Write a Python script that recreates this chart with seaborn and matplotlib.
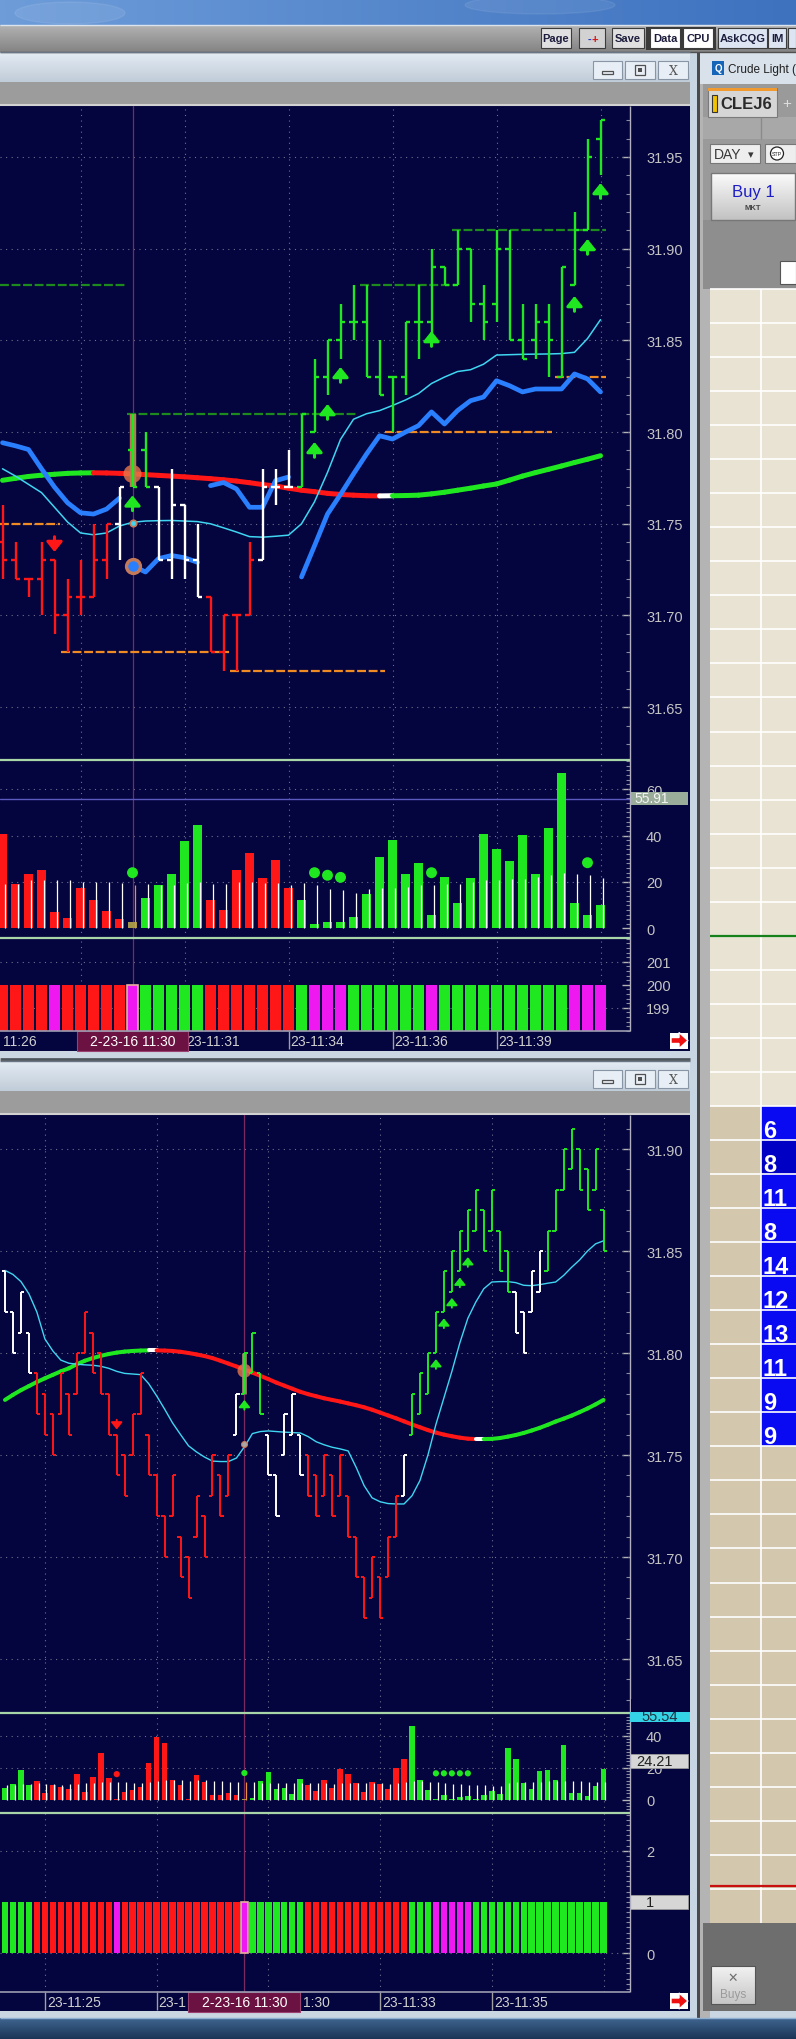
import numpy as np
import matplotlib
matplotlib.use("Agg")
import matplotlib.pyplot as plt
import matplotlib.colors as mcolors
from matplotlib.collections import LineCollection
from matplotlib.patches import Rectangle, Polygon, Circle, Ellipse
from matplotlib.ticker import MultipleLocator
import seaborn as sns

# ------------------------------------------------------------------
# values (CLEJ6, two range-bar charts)
# ------------------------------------------------------------------

# upper chart: 47 bars
top_open = [31.74, 31.73, 31.72, 31.72, 31.73, 31.70, 31.71, 31.71, 31.73, 31.75,
            31.79, 31.79, 31.77, 31.73, 31.76, 31.73, 31.71, 31.68, 31.70, 31.70,
            31.73, 31.77, 31.77, 31.77, 31.80, 31.83, 31.85, 31.86, 31.86, 31.83,
            31.83, 31.83, 31.86, 31.86, 31.89, 31.88, 31.90, 31.87, 31.87, 31.90,
            31.85, 31.85, 31.86, 31.83, 31.88, 31.91, 31.96]
top_high = [31.76, 31.74, 31.72, 31.74, 31.73, 31.72, 31.73, 31.75, 31.75, 31.77,
            31.81, 31.80, 31.77, 31.78, 31.76, 31.75, 31.71, 31.70, 31.70, 31.74,
            31.78, 31.78, 31.79, 31.81, 31.84, 31.85, 31.87, 31.88, 31.88, 31.85,
            31.83, 31.86, 31.88, 31.90, 31.89, 31.91, 31.90, 31.88, 31.91, 31.91,
            31.87, 31.87, 31.87, 31.89, 31.92, 31.96, 31.97]
top_low = [31.72, 31.72, 31.71, 31.70, 31.69, 31.68, 31.70, 31.71, 31.72, 31.73,
           31.77, 31.77, 31.73, 31.72, 31.72, 31.71, 31.68, 31.67, 31.67, 31.70,
           31.73, 31.76, 31.77, 31.77, 31.80, 31.82, 31.84, 31.85, 31.83, 31.82,
           31.80, 31.82, 31.84, 31.85, 31.88, 31.88, 31.86, 31.85, 31.86, 31.85,
           31.84, 31.84, 31.83, 31.83, 31.88, 31.91, 31.94]
top_close = [31.73, 31.72, 31.72, 31.73, 31.70, 31.71, 31.71, 31.73, 31.75, 31.77,
             31.77, 31.77, 31.73, 31.76, 31.73, 31.71, 31.68, 31.70, 31.70, 31.73,
             31.77, 31.77, 31.77, 31.81, 31.83, 31.85, 31.86, 31.86, 31.83, 31.82,
             31.83, 31.86, 31.86, 31.89, 31.88, 31.90, 31.87, 31.86, 31.90, 31.85,
             31.84, 31.86, 31.85, 31.89, 31.91, 31.95, 31.97]
top_bar_colors = "rrrrrrrrrwggwwwwrrrrwwwgggggggggggggggggggggggg"
top_ma = [31.7737, 31.7748, 31.7758, 31.7765, 31.7770, 31.7775, 31.7777, 31.7778, 31.7777, 31.7775,
          31.7772, 31.7768, 31.7764, 31.7760, 31.7756, 31.7751, 31.7746, 31.7740, 31.7733, 31.7724,
          31.7714, 31.7706, 31.7694, 31.7683, 31.7675, 31.7666, 31.7660, 31.7656, 31.7653, 31.7652,
          31.7653, 31.7654, 31.7656, 31.7663, 31.7672, 31.7683, 31.7694, 31.7706, 31.7717, 31.7738,
          31.7760, 31.7779, 31.7797, 31.7815, 31.7834, 31.7852, 31.7871]
top_ma_colors = "ggggggggrrrrrrrrrrrrrrrrrrrrrrwgggggggggggggggg"
top_cyan = [31.7800, 31.7760, 31.7715, 31.7670, 31.7590, 31.7510, 31.7450, 31.7440, 31.7450, 31.7488,
            31.7508, 31.7515, 31.7517, 31.7518, 31.7515, 31.7512, 31.7500, 31.7478, 31.7455, 31.7430,
            31.7427, 31.7432, 31.7438, 31.7500, 31.7620, 31.7780, 31.7960, 31.8070, 31.8100, 31.8117,
            31.8145, 31.8175, 31.8210, 31.8265, 31.8300, 31.8330, 31.8340, 31.8370, 31.8420, 31.8422,
            31.8424, 31.8425, 31.8426, 31.8428, 31.8435, 31.8510, 31.8613]
top_blue = [31.7942, 31.7925, 31.7905, 31.7800, 31.7700, 31.7615, 31.7560, 31.7553, 31.7580, 31.7640,
            31.7272, 31.7237, 31.7310, 31.7327, 31.7315, 31.7290,
            31.7708, 31.7725, 31.7690, 31.7590, 31.7590, 31.7735, 31.7755,
            31.7210, 31.7380, 31.7553, 31.7660, 31.7772, 31.7880, 31.7980, 31.7962, 31.8000, 31.8035,
            31.8110, 31.8044, 31.8117, 31.8171, 31.8191, 31.8280, 31.8253, 31.8219, 31.8235, 31.8235,
            31.8235, 31.8317, 31.8290, 31.8219]
top_blue_breaks = [10, 16, 23]
top_volume = [40.7, 19.0, 23.6, 25.3, 6.9, 4.3, 17.6, 12.4, 7.4, 3.9,
              3.0, 13.3, 18.6, 23.6, 37.7, 44.6, 12.4, 8.1, 25.3, 32.6,
              21.9, 29.6, 17.6, 12.4, 2.1, 3.0, 3.0, 5.0, 15.0, 30.9,
              38.1, 23.6, 28.3, 5.6, 22.3, 11.1, 21.9, 40.7, 34.3, 29.1,
              40.3, 23.6, 43.3, 66.9, 11.1, 5.6, 9.9]
top_volume_colors = "rrrrrrrrrrogggggrrrrrrrgggggggggggggggggggggggg"
top_volume_avg = [19.3, 19.3, 20.7, 20.7, 20.7, 20.7, 20.0, 20.0, 20.0, 19.6,
                  18.6, 19.0, 18.6, 18.6, 19.5, 19.8, 19.3, 19.0, 19.8, 20.0,
                  19.7, 19.7, 18.6, 19.6, 18.6, 17.1, 16.4, 15.4, 17.1, 17.6,
                  17.6, 18.0, 18.6, 18.6, 19.0, 19.3, 20.0, 20.7, 20.7, 21.4,
                  21.4, 22.0, 22.9, 23.9, 23.3, 22.9, 21.9]
top_volume_dot_bars = [10, 24, 25, 26, 33, 45]
top_volume_dot_vals = [24.0, 24.0, 22.9, 22.0, 24.0, 28.3]
top_volume_marker = 55.91
top_paint_colors = "rrrrmrrrrrmgggggrrrrrrrgmmmggggggmggggggggggmmm"
top_paint_level = 200
top_up_arrow_bars = [10, 24, 25, 26, 33, 44, 45, 46]
top_up_arrow_tips = [31.7655, 31.7946, 31.8153, 31.8355, 31.8551, 31.8742, 31.9053, 31.9358]
top_down_arrow_bars = [4]
top_down_arrow_tips = [31.7346]
top_green_level = [31.88, 31.81, 31.88, 31.91]
top_green_from = [-0.2, 9.6, 27.5, 34.6]
top_green_to = [9.4, 27.3, 34.8, 46.4]
top_orange_level = [31.75, 31.68, 31.67, 31.80, 31.83]
top_orange_from = [-0.2, 4.5, 17.5, 29.4, 42.5]
top_orange_to = [4.4, 17.4, 29.4, 42.3, 46.4]
top_cursor_bar = 10
top_cursor_ma = 31.7772
top_cursor_blue = 31.7272
top_cursor_cyan = 31.7506
top_price_ticks = [31.65, 31.70, 31.75, 31.80, 31.85, 31.90, 31.95]
top_volume_ticks = [0, 20, 40, 60]
top_paint_ticks = [199, 200, 201]
top_grid_bars = [6, 14, 22, 30, 38, 46]
top_time_bars = [14, 22, 30, 38]
top_time_labels = ["23-11:31", "23-11:34", "23-11:36", "23-11:39"]
top_first_label = "11:26"
cursor_label = "2-23-16 11:30"

# lower chart: 76 bars
bot_open = [31.84, 31.82, 31.81, 31.81, 31.79, 31.78, 31.77, 31.77, 31.78, 31.78,
            31.80, 31.81, 31.80, 31.78, 31.76, 31.75, 31.75, 31.77, 31.76, 31.74,
            31.72, 31.72, 31.71, 31.70, 31.71, 31.72, 31.73, 31.74, 31.73, 31.76,
            31.78, 31.79, 31.79, 31.76, 31.74, 31.75, 31.76, 31.76, 31.75, 31.74,
            31.73, 31.74, 31.73, 31.73, 31.71, 31.69, 31.68, 31.69, 31.69, 31.71,
            31.73, 31.76, 31.77, 31.78, 31.80, 31.82, 31.83, 31.84, 31.85, 31.86,
            31.87, 31.86, 31.86, 31.85, 31.83, 31.82, 31.82, 31.83, 31.84, 31.86,
            31.88, 31.89, 31.90, 31.89, 31.88, 31.87]
bot_close = [31.82, 31.80, 31.83, 31.79, 31.77, 31.76, 31.75, 31.79, 31.76, 31.80,
             31.82, 31.79, 31.78, 31.76, 31.74, 31.73, 31.77, 31.79, 31.74, 31.72,
             31.70, 31.74, 31.69, 31.68, 31.73, 31.70, 31.75, 31.72, 31.75, 31.78,
             31.80, 31.81, 31.77, 31.74, 31.72, 31.77, 31.78, 31.74, 31.73, 31.72,
             31.75, 31.72, 31.75, 31.71, 31.69, 31.67, 31.70, 31.67, 31.71, 31.73,
             31.75, 31.78, 31.79, 31.80, 31.82, 31.84, 31.85, 31.86, 31.87, 31.88,
             31.85, 31.88, 31.84, 31.83, 31.81, 31.80, 31.84, 31.85, 31.86, 31.88,
             31.90, 31.91, 31.88, 31.87, 31.90, 31.85]
bot_bar_colors = "wwwwrrrrrrrrrrrrrrrrrrrrrrrrrwgggwwwwwrrrrrrrrrrrrwgggggggggggggwwwwgggggggg"
bot_ma = [31.7770, 31.7795, 31.7818, 31.7838, 31.7858, 31.7876, 31.7893, 31.7910, 31.7925, 31.7945,
          31.7962, 31.7975, 31.7986, 31.7995, 31.8002, 31.8007, 31.8010, 31.8012, 31.8013, 31.8013,
          31.8012, 31.8010, 31.8006, 31.8000, 31.7993, 31.7985, 31.7975, 31.7962, 31.7948, 31.7934,
          31.7920, 31.7904, 31.7888, 31.7872, 31.7855, 31.7840, 31.7825, 31.7810, 31.7798, 31.7788,
          31.7778, 31.7770, 31.7762, 31.7753, 31.7744, 31.7734, 31.7722, 31.7708, 31.7694, 31.7680,
          31.7665, 31.7650, 31.7636, 31.7622, 31.7610, 31.7600, 31.7592, 31.7585, 31.7580, 31.7578,
          31.7578, 31.7579, 31.7583, 31.7590, 31.7598, 31.7608, 31.7620, 31.7633, 31.7648, 31.7664,
          31.7678, 31.7693, 31.7710, 31.7728, 31.7748, 31.7770]
bot_ma_colors = "gggggggggggggggggggwrrrrrrrrrrrrrrrrrrrrrrrrrrrrrrrrrrrrrrrrwggggggggggggggg"
bot_cyan = [31.8405, 31.8385, 31.8350, 31.8290, 31.8200, 31.8069, 31.8010, 31.7965, 31.7950, 31.7945,
            31.7942, 31.7940, 31.7935, 31.7925, 31.7910, 31.7900, 31.7897, 31.7894, 31.7850, 31.7790,
            31.7725, 31.7657, 31.7600, 31.7545, 31.7515, 31.7490, 31.7470, 31.7468, 31.7468, 31.7485,
            31.7540, 31.7605, 31.7615, 31.7618, 31.7615, 31.7612, 31.7610, 31.7608, 31.7590, 31.7565,
            31.7550, 31.7538, 31.7530, 31.7520, 31.7440, 31.7350, 31.7290, 31.7271, 31.7262, 31.7260,
            31.7260, 31.7300, 31.7375, 31.7500, 31.7650, 31.7780, 31.7910, 31.8050, 31.8170, 31.8250,
            31.8315, 31.8348, 31.8350, 31.8350, 31.8345, 31.8332, 31.8330, 31.8335, 31.8342, 31.8348,
            31.8380, 31.8420, 31.8456, 31.8500, 31.8535, 31.8550]
bot_volume = [7.1, 9.8, 18.75, 9.2, 11.9, 4.0, 9.2, 7.9, 6.7, 16.0,
              4.6, 14.2, 29.2, 13.5, 0.4, 5.0, 6.25, 7.9, 22.9, 39.2,
              35.4, 12.5, 9.2, 0.4, 15.4, 10.8, 2.9, 2.9, 4.0, 2.9,
              0.4, 1.0, 11.7, 17.1, 6.7, 7.3, 3.3, 12.9, 9.2, 5.4,
              12.5, 7.3, 19.2, 16.0, 10.4, 4.8, 10.8, 9.8, 6.7, 19.8,
              25.4, 45.8, 12.3, 6.0, 0.4, 2.9, 0.2, 1.7, 2.1, 0.2,
              2.7, 5.4, 3.5, 32.1, 25.4, 10.4, 6.7, 17.9, 18.75, 12.3,
              34.2, 4.2, 4.2, 2.3, 8.5, 19.2]
bot_volume_colors = "ggggrrrrrrrrrrrrrrrrrrrrrrrrrrogggggggrrrrrrrrrrrrrggggggggggggggggggggggggg"
bot_volume_avg = [9.0, 9.4, 9.8, 10.0, 10.2, 9.8, 9.6, 9.4, 9.6, 10.0,
                  10.2, 10.4, 11.0, 11.2, 11.0, 10.8, 10.6, 10.4, 11.0, 12.0,
                  12.5, 12.5, 12.3, 12.0, 12.3, 12.3, 12.0, 11.6, 11.2, 11.0,
                  11.0, 10.8, 10.6, 10.6, 10.4, 10.4, 10.2, 10.4, 10.4, 10.2,
                  10.2, 10.0, 10.4, 10.6, 10.6, 10.4, 10.4, 10.2, 10.0, 10.4,
                  11.0, 12.0, 11.8, 11.2, 10.8, 10.4, 10.0, 9.6, 9.4, 9.2,
                  9.0, 8.8, 8.8, 10.4, 11.2, 11.2, 11.0, 11.2, 11.4, 11.4,
                  12.0, 11.8, 11.6, 11.2, 11.0, 11.2]
bot_volume_dot_bars = [14, 30, 54, 55, 56, 57, 58]
bot_volume_dot_vals = [16.0, 16.7, 16.5, 16.5, 16.5, 16.5, 16.5]
bot_volume_dot_colors = "rgggggg"
bot_volume_marker = 24.21
bot_volume_top_label = "55.54"
bot_paint_colors = "ggggrrrrrrrrrrmrrrrrrrrrrrrrrrmgggggggrrrrrrrrrrrrrgggmmmmmggggggggggggggggg"
bot_paint_level = 1
bot_up_arrow_bars = [30, 54, 55, 56, 57, 58]
bot_up_arrow_tips = [31.777, 31.797, 31.817, 31.827, 31.837, 31.847]
bot_down_arrow_bars = [14]
bot_down_arrow_tips = [31.7625]
bot_cursor_bar = 30
bot_cursor_ma = 31.7913
bot_cursor_cyan = 31.7556
bot_price_ticks = [31.65, 31.70, 31.75, 31.80, 31.85, 31.90]
bot_volume_ticks = [0, 20, 40]
bot_paint_ticks = [0, 2]
bot_grid_bars = [5, 19, 33, 47, 61, 75]
bot_time_bars = [5, 19, 47, 61]
bot_time_labels = ["23-11:25", "23-1", "23-11:33", "23-11:35"]
bot_after_cursor_label = "1:30"

# order ladder on the right
dom_sizes = [6, 8, 11, 8, 14, 12, 13, 11, 9, 9]
dom_first_row = 24
toolbar_labels = ["Page", "-+", "Save", "Data", "CPU", "AskCQG", "IM"]

# ------------------------------------------------------------------
sns.set_theme(style="dark")
plt.rcParams["font.family"] = ["Liberation Sans", "DejaVu Sans"]

PAL = {"r": "#ff1616", "g": "#20e820", "w": "#ffffff", "m": "#f018f0", "o": "#a49648"}
NAVY = "#04043e"
AXIS_TXT = "#c4c4c4"
W, H = 796, 2040

fig = plt.figure(figsize=(W / 100, H / 100), dpi=100)
bg = fig.add_axes([0, 0, 1, 1], zorder=0)
fg = fig.add_axes([0, 0, 1, 1], zorder=3)
for a in (bg, fg):
    a.set_facecolor("none")
    a.axis("off")


def box(ax, x0, y0, x1, y1, fc, ec="none", lw=0.0, z=1):
    ax.add_patch(Rectangle((x0, y0), x1 - x0, y1 - y0, facecolor=fc,
                           edgecolor=ec, linewidth=lw, zorder=z))


def grad(ax, x0, x1, y0, y1, c0, c1, horizontal=False, z=0.5):
    a = np.array(mcolors.to_rgb(c0))
    b = np.array(mcolors.to_rgb(c1))
    t = np.linspace(0.0, 1.0, 64)[:, None]
    ramp = a * (1 - t) + b * t
    img = ramp[None, :, :] if horizontal else ramp[:, None, :]
    ax.imshow(img, extent=(x0, x1, y1, y0), aspect="auto",
              interpolation="bilinear", zorder=z)


# ---------------- screen chrome ----------------
grad(bg, 0, W, 0, 26, "#6d9cd9", "#3e72bf", horizontal=True)
bg.add_patch(Ellipse((70, 14), 110, 22, color="white", alpha=0.08, zorder=1))
bg.add_patch(Ellipse((540, 6), 150, 18, color="white", alpha=0.07, zorder=1))
grad(bg, 0, W, 26, 53, "#b2b2b2", "#848484")
bg.hlines(26, 0, W, color="#dbe3ec", lw=1, zorder=2)
bg.hlines(53, 0, W, color="#505050", lw=1, zorder=2)

box(bg, 646, 28, 716, 51, "#3a3a3a", z=1.5)
tb_pos = [(541, 571), (579, 605), (612, 644), (650, 680), (683, 713), (718, 767), (768, 786)]
tb_fill = ["#e0e0e0", "#d2d2d2", "#e0e0e0", "#ffffff", "#ffffff", "#dde5f2", "#dde5f2"]
for lab, (x0, x1), fc in zip(toolbar_labels, tb_pos, tb_fill):
    box(bg, x0, 29, x1, 49, fc, ec="#3c3c3c", lw=0.8, z=2)
    if lab == "-+":
        bg.text((x0 + x1) / 2 - 3, 39.5, "-", color="#1a3ad0", fontsize=8, fontweight="bold",
                ha="center", va="center", zorder=3)
        bg.text((x0 + x1) / 2 + 3, 39.5, "+", color="#e01010", fontsize=8, fontweight="bold",
                ha="center", va="center", zorder=3)
    else:
        bg.text((x0 + x1) / 2, 39.5, lab, color="#1c1c3c", fontsize=8, fontweight="bold",
                ha="center", va="center", zorder=3)
box(bg, 788, 29, 796, 49, "#dde5f2", ec="#3c3c3c", lw=0.8, z=2)


def chart_window(yt, y_chart_end):
    grad(bg, 0, 690, yt, yt + 30, "#e4ecf4", "#c0ccd8")
    bg.hlines(yt, 0, 690, color="#6a7684", lw=1, zorder=2)
    for bx0, bx1 in [(593, 622), (625, 655), (658, 688)]:
        box(bg, bx0, yt + 9, bx1, yt + 27, "#e8eef5", ec="#8895a4", lw=0.8, z=2)
    box(bg, 602, yt + 19, 613, yt + 22, "none", ec="#505050", lw=0.9, z=3)
    box(bg, 635, yt + 13, 645, yt + 23, "none", ec="#505050", lw=0.9, z=3)
    box(bg, 638, yt + 16, 642, yt + 20, "#505050", z=3)
    bg.text(673, yt + 18.5, "X", color="#555555", fontsize=9, ha="center", va="center",
            family="DejaVu Serif", zorder=3)
    box(bg, 0, yt + 30, 690, yt + 54, "#9c9c9c", z=1)
    bg.hlines(yt + 53, 0, 690, color="#d2d2d2", lw=1.5, zorder=2)
    box(bg, 0, yt + 54, 690, y_chart_end, NAVY, z=1)


chart_window(53, 1052)
chart_window(1062, 2012)
box(bg, 0, 1052, 690, 1059, "#cad6e2", z=1)
bg.hlines(1060, 0, 690, color="#4c545c", lw=2, zorder=2)
box(bg, 0, 2012, 796, 2019, "#cad6e2", z=1)
grad(bg, 0, W, 2019, 2040, "#3f6590", "#1b3556")
bg.hlines(2019, 0, W, color="#8fb0d0", lw=1, zorder=2)

# window frame between charts and ladder
box(bg, 690, 53, 697, 2019, "#c8d6e4", z=1)
box(bg, 697, 53, 700, 2019, "#4a4a4a", z=1)
box(bg, 700, 53, 710, 2019, "#b4b4b4", z=1)

# ---------------- order ladder ----------------
box(bg, 700, 53, W, 85, "#d9e2eb", z=1.2)
box(bg, 712, 62, 724, 76, "#1565b8", z=2)
bg.text(718, 69.5, "Q", color="white", fontsize=7, fontweight="bold", ha="center", va="center", zorder=3)
bg.text(728, 69.5, "Crude Light (", color="#202020", fontsize=8.5, va="center", zorder=3)
box(bg, 703, 85, W, 290, "#9a9a9a", z=1.2)
box(bg, 708, 89, 777, 118, "#d6d6d6", ec="#7a7a7a", lw=0.8, z=2)
box(bg, 708, 89, 777, 91.5, "#f09a30", z=2.5)
box(bg, 712, 96, 717, 113, "#f2c200", ec="#333333", lw=0.8, z=3)
bg.text(720, 104.5, "CLEJ6", color="#2a2a2a", fontsize=12, fontweight="bold", va="center", zorder=3)
bg.text(787, 104, "+", color="#dddddd", fontsize=11, ha="center", va="center", zorder=3)
box(bg, 703, 118, W, 140, "#a8a8a8", z=1.5)
bg.vlines(761, 118, 140, color="#8a8a8a", lw=1, zorder=2)
box(bg, 710, 145, 760, 164, "#eeeeee", ec="#777777", lw=0.8, z=2)
bg.text(714, 155, "DAY", color="#383838", fontsize=10, va="center", zorder=3)
bg.text(751, 155, "\u25be", color="#383838", fontsize=8, ha="center", va="center", zorder=3)
box(bg, 765, 145, W, 164, "#eeeeee", ec="#777777", lw=0.8, z=2)
bg.add_patch(Circle((777, 154.5), 6.5, facecolor="white", edgecolor="#222222", lw=0.9, zorder=3))
bg.text(777, 154.5, "STP", color="#222222", fontsize=3.8, ha="center", va="center", zorder=4)
grad(bg, 711, 795, 174, 221, "#fbfbfb", "#c2c2c2", z=2)
box(bg, 711, 174, 795, 221, "none", ec="#777777", lw=1, z=2.5)
bg.text(753, 193, "Buy 1", color="#1c1cc8", fontsize=12, ha="center", va="center", zorder=3)
bg.text(753, 208, "MKT", color="#444444", fontsize=5.5, fontweight="bold", ha="center", va="center", zorder=3)
box(bg, 703, 221, W, 290, "#8e8e8e", z=1.6)
box(bg, 780, 262, W, 285, "#ffffff", ec="#555555", lw=0.8, z=2)

row_h = 34.04
grid_top = 290
n_rows = 48
for k in range(n_rows):
    y0 = grid_top + k * row_h
    light = k < dom_first_row
    left = "#e8e3d3" if light else "#d3c7ad"
    box(bg, 710, y0, 761, y0 + row_h, left, z=1.5)
    j = k - dom_first_row
    if light:
        right = "#e8e3d3"
    elif j < len(dom_sizes):
        right = "#0000c4" if j == 1 else "#0a0af2"
    else:
        right = "#d3c7ad"
    box(bg, 761, y0, W, y0 + row_h, right, z=1.5)
    if 0 <= j < len(dom_sizes):
        bg.text(763, y0 + row_h - 3, str(dom_sizes[j]), color="white", fontsize=17,
                fontweight="bold", va="baseline", zorder=3)
    bg.hlines(y0, 710, W, color="white", lw=1.2, zorder=2)
bg.vlines(761, grid_top, grid_top + n_rows * row_h, color="white", lw=1.2, zorder=2)
bg.hlines(grid_top + 19 * row_h, 710, W, color="#16801a", lw=1.6, zorder=2.5)
bg.hlines(1887, 710, W, color="#c81010", lw=1.6, zorder=2.5)
box(bg, 703, grid_top + n_rows * row_h, W, 2012, "#6e6e6e", z=1.6)
grad(bg, 711, 755, 1967, 2005, "#f2f2f2", "#c6c6c6", z=2)
box(bg, 711, 1967, 755, 2005, "none", ec="#555555", lw=0.8, z=2.5)
bg.text(733, 1979, "\u2715", color="#707070", fontsize=9, ha="center", va="center", zorder=3)
bg.text(733, 1995, "Buys", color="#9a9a9a", fontsize=8.5, ha="center", va="center", zorder=3)

# red scroll arrows at the right of each time axis
for yc in (1041.5, 2002):
    box(bg, 670, yc - 8, 688, yc + 8, "white", z=2)
    bg.add_patch(Polygon([[671, yc - 3], [679, yc - 3], [679, yc - 8], [688, yc],
                          [679, yc + 8], [679, yc + 3], [671, yc + 3]],
                         closed=True, facecolor="#ee1010", zorder=3))


# ---------------- chart panels ----------------
def add_panel(y0, y1, xlim, ylim):
    ax = fig.add_axes([0, 1 - y1 / H, 630 / W, (y1 - y0) / H], zorder=1)
    ax.set_facecolor("none")
    for s in ax.spines.values():
        s.set_visible(False)
    ax.set_xlim(xlim)
    ax.set_ylim(ylim)
    ax.grid(False)
    return ax


def style_axis(ax, ticks, labels, minor, xlim, ylim):
    ax.set_xlim(xlim)
    ax.set_ylim(ylim)
    ax.set_xlabel("")
    ax.set_ylabel("")
    ax.set_xticks([])
    ax.yaxis.tick_right()
    ax.set_yticks(ticks, labels=labels)
    ax.yaxis.set_minor_locator(MultipleLocator(minor))
    ax.tick_params(axis="y", which="major", right=True, left=False, direction="in",
                   length=6, width=1, color="#b4b4b4", labelcolor=AXIS_TXT,
                   labelsize=10.5, pad=11.5)
    ax.tick_params(axis="y", which="minor", right=True, left=False, direction="in",
                   length=3, width=0.8, color="#8a8aa0")


def dotted_grid(ax, xs, ys):
    for x in xs:
        ax.axvline(x, color="#70708e", lw=0.8, ls=(0, (1, 4)), zorder=0.6)
    for y in ys:
        ax.axhline(y, color="#70708e", lw=0.8, ls=(0, (1, 4)), zorder=0.6)


def ohlc(ax, o, h, l, c, colors, tick, lw):
    x = np.arange(len(o))
    cols = [PAL[k] for k in colors]
    ax.vlines(x, l, h, colors=cols, lw=lw, zorder=5)
    ax.hlines(o, x - tick, x, colors=cols, lw=lw, zorder=5)
    ax.hlines(c, x, x + tick, colors=cols, lw=lw, zorder=5)


def colored_line(ax, vals, colors, lw):
    pts = np.column_stack([np.arange(len(vals)), vals])
    segs = np.stack([pts[:-1], pts[1:]], axis=1)
    ax.add_collection(LineCollection(segs, colors=[PAL[k] for k in colors[1:]],
                                     linewidths=lw, capstyle="round", zorder=3))


def arrows(ax, bars, tips, color, up, length, lw, hw, hl):
    for b, t in zip(bars, tips):
        ax.annotate("", xy=(b, t), xytext=(0, -length if up else length),
                    textcoords="offset points",
                    arrowprops=dict(arrowstyle=f"-|>,head_length={hl},head_width={hw}",
                                    color=color, lw=lw, shrinkA=0, shrinkB=0,
                                    mutation_scale=12),
                    zorder=6)


def volume_panel(ax, vals, colors, avg, width, xlim, ylim):
    x = np.arange(len(vals))
    sns.barplot(x=x, y=vals, native_scale=True, width=width, color="#888888",
                errorbar=None, linewidth=0, ax=ax, zorder=2)
    for p, k in zip(ax.patches, colors):
        p.set_facecolor(PAL[k])
    avg_cols = ["#e89040" if k == "o" else "#ffffff" for k in colors]
    ax.vlines(x + 0.2, 0, avg, colors=avg_cols, lw=0.9, zorder=3)


def paint_panel(ax, colors, level, width, cursor):
    x = np.arange(len(colors))
    sns.barplot(x=x, y=[level] * len(colors), native_scale=True, width=width,
                color="#888888", errorbar=None, linewidth=0, ax=ax, zorder=2)
    for i, (p, k) in enumerate(zip(ax.patches, colors)):
        p.set_facecolor(PAL[k])
        if i == cursor:
            p.set_edgecolor("#e8b0a0")
            p.set_linewidth(1.2)


# ===== upper chart =====
tx = (-2.5 / 13, 627.5 / 13)
t_price_ylim = (31.6212, 31.9778)
t_vol_ylim = (-4.1, 72.5)
t_paint_ylim = (197.99, 202.03)
ax_tp = add_panel(107, 761, tx, t_price_ylim)
ax_tv = add_panel(761, 939, tx, t_vol_ylim)
ax_tc = add_panel(939, 1032, tx, t_paint_ylim)

dotted_grid(ax_tp, top_grid_bars, top_price_ticks)
for lev, a, b in zip(top_green_level, top_green_from, top_green_to):
    ax_tp.hlines(lev, a, b, color="#1c8a1c", lw=1.6, ls=(0, (4, 1.2)), zorder=2)
for lev, a, b in zip(top_orange_level, top_orange_from, top_orange_to):
    ax_tp.hlines(lev, a, b, color="#f08a22", lw=1.6, ls=(0, (4, 1.2)), zorder=2)
colored_line(ax_tp, top_ma, top_ma_colors, 3.6)
ax_tp.plot(np.arange(len(top_cyan)), top_cyan, color="#3fd6f2", lw=1.1, zorder=3)
edges = [0] + top_blue_breaks + [len(top_blue)]
for a, b in zip(edges[:-1], edges[1:]):
    ax_tp.plot(np.arange(a, b), top_blue[a:b], color="#2a7fff", lw=3.4,
               solid_capstyle="round", solid_joinstyle="round", zorder=3.5)
ax_tp.scatter([top_cursor_bar], [top_cursor_ma], s=170, color="#e8784a", alpha=0.8,
              edgecolor="none", zorder=4)
ax_tp.scatter([top_cursor_bar], [top_cursor_blue], s=100, color="#2a7fff",
              edgecolor="#c47a58", linewidth=2.4, zorder=4)
ax_tp.scatter([top_cursor_bar], [top_cursor_cyan], s=22, color="#3fd6f2",
              edgecolor="#c47a58", linewidth=1.2, zorder=4)
ax_tp.vlines(top_cursor_bar, top_low[top_cursor_bar], top_high[top_cursor_bar],
             color="#b87a52", lw=4.6, zorder=4.8)
ohlc(ax_tp, top_open, top_high, top_low, top_close, top_bar_colors, 0.38, 1.7)
arrows(ax_tp, top_up_arrow_bars, top_up_arrow_tips, PAL["g"], True, 11, 2.2, 0.4, 0.5)
arrows(ax_tp, top_down_arrow_bars, top_down_arrow_tips, PAL["r"], False, 11, 2.2, 0.4, 0.5)
style_axis(ax_tp, top_price_ticks, [f"{v:.2f}" for v in top_price_ticks], 0.01, tx, t_price_ylim)

volume_panel(ax_tv, top_volume, top_volume_colors, top_volume_avg, 0.66, tx, t_vol_ylim)
dotted_grid(ax_tv, top_grid_bars, [20, 40, 60])
ax_tv.axhline(top_volume_marker, color="#5a5ac0", lw=1, zorder=1.5)
ax_tv.scatter(top_volume_dot_bars, top_volume_dot_vals, s=62, color=PAL["g"],
              edgecolor="none", zorder=4)
style_axis(ax_tv, top_volume_ticks, [str(v) for v in top_volume_ticks], 2, tx, t_vol_ylim)
ax_tv.add_patch(Rectangle((1.0, top_volume_marker - 2.6), 58 / 630, 5.4,
                          transform=ax_tv.get_yaxis_transform(), clip_on=False,
                          facecolor="#9aac9a", edgecolor="none", zorder=6))
ax_tv.text(1 + 4 / 630, top_volume_marker + 0.1, f"{top_volume_marker:.2f}",
           transform=ax_tv.get_yaxis_transform(), color="#f4f4f4", fontsize=10,
           va="center", zorder=7)

paint_panel(ax_tc, top_paint_colors, top_paint_level, 0.9, top_cursor_bar)
dotted_grid(ax_tc, top_grid_bars, [199, 201])
style_axis(ax_tc, top_paint_ticks, [str(v) for v in top_paint_ticks], 0.2, tx, t_paint_ylim)

for a in (ax_tp, ax_tv, ax_tc):
    a.axvline(top_cursor_bar, color="#7a2a62", lw=0.9, zorder=1.2)

xf = ax_tc.get_xaxis_transform()
ph = 93.0
ax_tc.vlines(top_time_bars, -18 / ph, 0, transform=xf, clip_on=False, color="#a0a0a0", lw=1)
for b, s in zip(top_time_bars, top_time_labels):
    ax_tc.text(b + 0.12, -10 / ph, s, transform=xf, color="#cfcfcf", fontsize=10,
               va="center", clip_on=False)
ax_tc.text(tx[0] + 0.2, -10 / ph, top_first_label, transform=xf, color="#cfcfcf",
           fontsize=10, va="center", clip_on=False)
ax_tc.add_patch(Rectangle((top_cursor_bar - 56 / 13, -20 / ph), 112 / 13, 20 / ph,
                          transform=xf, clip_on=False, facecolor="#6c1242",
                          edgecolor="#9a4070", lw=0.8, zorder=6))
ax_tc.text(top_cursor_bar, -10 / ph, cursor_label, transform=xf, color="white",
           fontsize=10, ha="center", va="center", clip_on=False, zorder=7)

# ===== lower chart =====
bx = (-5 / 7.98, 625 / 7.98)
b_price_ylim = (31.62353, 31.91667)
b_vol_ylim = (-8.3, 54.2)
b_paint_ylim = (-0.762, 2.736)
ax_bp = add_panel(1116, 1714, bx, b_price_ylim)
ax_bv = add_panel(1714, 1814, bx, b_vol_ylim)
ax_bc = add_panel(1814, 1993, bx, b_paint_ylim)

dotted_grid(ax_bp, bot_grid_bars, bot_price_ticks)
colored_line(ax_bp, bot_ma, bot_ma_colors, 2.9)
ax_bp.plot(np.arange(len(bot_cyan)), bot_cyan, color="#3fd6f2", lw=1.0, zorder=3)
ax_bp.scatter([bot_cursor_bar], [bot_cursor_ma], s=100, color="#e8784a", alpha=0.8,
              edgecolor="none", zorder=4)
ax_bp.scatter([bot_cursor_bar], [bot_cursor_cyan], s=18, color="#a8a8a8",
              edgecolor="#c47a58", linewidth=0.8, zorder=4)
b_lo = [min(o, c) for o, c in zip(bot_open, bot_close)]
b_hi = [max(o, c) for o, c in zip(bot_open, bot_close)]
ax_bp.vlines(bot_cursor_bar, b_lo[bot_cursor_bar], b_hi[bot_cursor_bar],
             color="#a08a70", lw=3.4, zorder=4.8)
ohlc(ax_bp, bot_open, b_hi, b_lo, bot_close, bot_bar_colors, 0.42, 1.4)
arrows(ax_bp, bot_up_arrow_bars, bot_up_arrow_tips, PAL["g"], True, 7, 1.4, 0.28, 0.35)
arrows(ax_bp, bot_down_arrow_bars, bot_down_arrow_tips, PAL["r"], False, 7, 1.4, 0.28, 0.35)
style_axis(ax_bp, bot_price_ticks, [f"{v:.2f}" for v in bot_price_ticks], 0.01, bx, b_price_ylim)

volume_panel(ax_bv, bot_volume, bot_volume_colors, bot_volume_avg, 0.7, bx, b_vol_ylim)
dotted_grid(ax_bv, bot_grid_bars, [20, 40])
ax_bv.scatter(bot_volume_dot_bars, bot_volume_dot_vals, s=20,
              color=[PAL[k] for k in bot_volume_dot_colors], edgecolor="none", zorder=4)
style_axis(ax_bv, bot_volume_ticks, [str(v) for v in bot_volume_ticks], 2, bx, b_vol_ylim)
ax_bv.add_patch(Rectangle((1.0, bot_volume_marker - 4.4), 58 / 630, 8.8,
                          transform=ax_bv.get_yaxis_transform(), clip_on=False,
                          facecolor="#d6d6d6", edgecolor="#9a9a9a", lw=0.6, zorder=6))
ax_bv.text(1 + 6 / 630, bot_volume_marker, f"{bot_volume_marker:.2f}",
           transform=ax_bv.get_yaxis_transform(), color="#202020", fontsize=10.5,
           va="center", zorder=7)

paint_panel(ax_bc, bot_paint_colors, bot_paint_level, 0.8, bot_cursor_bar)
dotted_grid(ax_bc, bot_grid_bars, [0, 2])
style_axis(ax_bc, bot_paint_ticks, [str(v) for v in bot_paint_ticks], 0.1, bx, b_paint_ylim)
ax_bc.add_patch(Rectangle((1.0, bot_paint_level - 0.135), 58 / 630, 0.27,
                          transform=ax_bc.get_yaxis_transform(), clip_on=False,
                          facecolor="#d6d6d6", edgecolor="#9a9a9a", lw=0.6, zorder=6))
ax_bc.text(1 + 16 / 630, bot_paint_level, str(bot_paint_level),
           transform=ax_bc.get_yaxis_transform(), color="#202020", fontsize=10.5,
           va="center", zorder=7)

for a in (ax_bp, ax_bv, ax_bc):
    a.axvline(bot_cursor_bar, color="#7a2a62", lw=0.9, zorder=1.2)

xf = ax_bc.get_xaxis_transform()
ph = 179.0
ppb = 7.98
ax_bc.vlines(bot_time_bars, -18 / ph, 0, transform=xf, clip_on=False, color="#a0a0a0", lw=1)
for b, s in zip(bot_time_bars, bot_time_labels):
    ax_bc.text(b + 0.25, -10 / ph, s, transform=xf, color="#cfcfcf", fontsize=10,
               va="center", clip_on=False)
ax_bc.add_patch(Rectangle((bot_cursor_bar - 56 / ppb, -20 / ph), 112 / ppb, 20 / ph,
                          transform=xf, clip_on=False, facecolor="#6c1242",
                          edgecolor="#9a4070", lw=0.8, zorder=6))
ax_bc.text(bot_cursor_bar, -10 / ph, cursor_label, transform=xf, color="white",
           fontsize=10, ha="center", va="center", clip_on=False, zorder=7)
ax_bc.text(bot_cursor_bar + 56 / ppb + 0.3, -10 / ph, bot_after_cursor_label, transform=xf,
           color="#cfcfcf", fontsize=10, va="center", clip_on=False)

# ---------------- overlay: panel borders and value flags ----------------
for y in (761, 939, 1714, 1814):
    fg.hlines(y, 0, 630, color="#a9d6a9", lw=1.6, zorder=2)
for y in (1032, 1993):
    fg.hlines(y, 0, 630, color="#9c9cb0", lw=1.2, zorder=2)
fg.vlines(630, 107, 1032, color="#b0b0c0", lw=1, zorder=2)
fg.vlines(630, 1116, 1993, color="#b0b0c0", lw=1, zorder=2)
box(fg, 630, 1713, 690, 1723, "#34d4e6", z=2)
fg.text(660, 1717, bot_volume_top_label, color="#203040", fontsize=10.5,
        ha="center", va="center", zorder=3)
box(fg, 630.6, 1700, 690, 1713, NAVY, z=4)

for a in (bg, fg):
    a.set_xlim(0, W)
    a.set_ylim(H, 0)

fig.savefig("out.png", dpi=100)
